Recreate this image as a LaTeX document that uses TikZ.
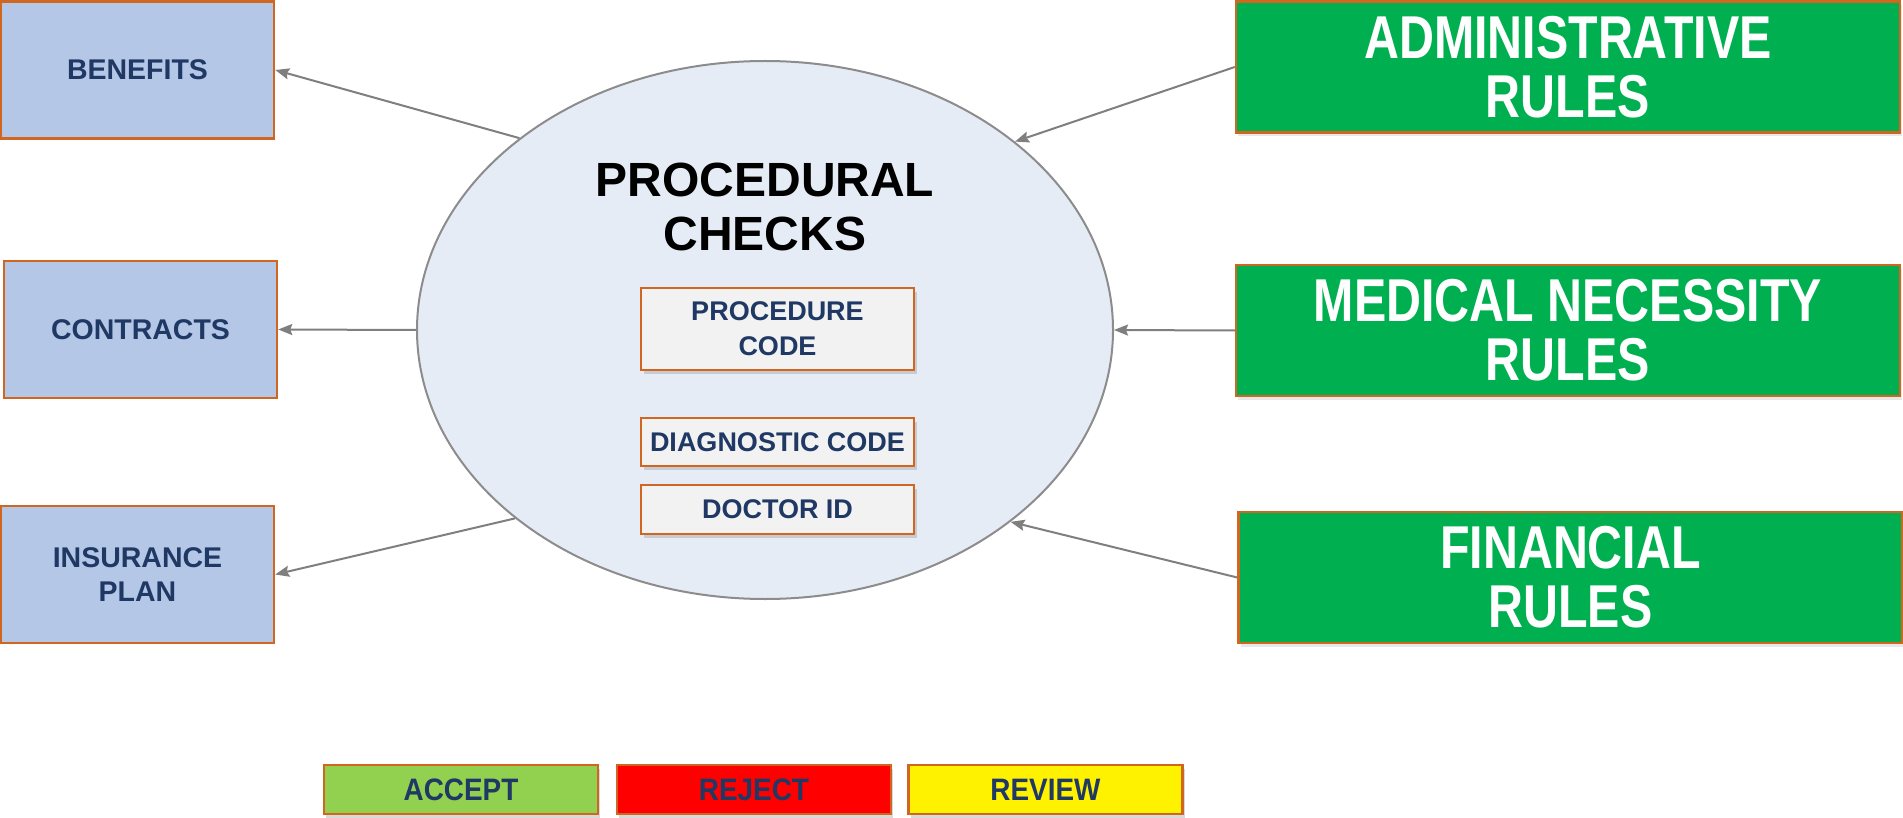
\documentclass[tikz,border=0pt]{standalone}
\usepackage{fontspec}
\setmainfont{Liberation Sans}
\newfontfamily\narrowsans[FakeStretch=0.8]{Liberation Sans}
\newfontfamily\semisans[FakeStretch=0.9]{Liberation Sans}
\usetikzlibrary{arrows.meta,shadows,shapes.geometric}

\definecolor{navy}{HTML}{1F3864}
\definecolor{edgeorange}{HTML}{D0661F}
\definecolor{sideblue}{HTML}{B4C7E7}
\definecolor{ovalfill}{HTML}{E6ECF6}
\definecolor{ovalline}{HTML}{8C8C8C}
\definecolor{rulegreen}{HTML}{00B050}
\definecolor{okgreen}{HTML}{92D050}
\definecolor{arrowgray}{HTML}{7F7F7F}
\definecolor{paleface}{HTML}{F2F2F2}

\tikzset{
  box/.style={draw=edgeorange, line width=2.5pt, rectangle, align=center, inner sep=0pt},
  sidebox/.style={box, fill=sideblue, text=navy, minimum width=273pt, minimum height=137pt,
    font=\fontsize{28.5}{34}\selectfont\bfseries},
  rulebox/.style={box, fill=rulegreen, text=white, minimum width=664pt, minimum height=131pt,
    font=\narrowsans\fontsize{60.5}{59}\selectfont\bfseries,
    drop shadow={opacity=0.18, shadow xshift=2pt, shadow yshift=-4pt}},
  fieldbox/.style={box, fill=paleface, text=navy, minimum width=273pt,
    font=\fontsize{27}{35}\selectfont\bfseries,
    drop shadow={opacity=0.3, shadow xshift=3pt, shadow yshift=-4pt}},
  verdict/.style={box, text=navy, minimum width=274pt, minimum height=49pt,
    font=\semisans\fontsize{31}{34}\selectfont\bfseries,
    drop shadow={opacity=0.3, shadow xshift=2pt, shadow yshift=-4pt}},
  link/.style={draw=arrowgray, line width=2pt, -{Stealth[length=14pt, width=11pt, inset=2pt]}}
}

\begin{document}
\begin{tikzpicture}[x=1pt, y=-1pt]
  \useasboundingbox (0,0) rectangle (1903,818);

  % central oval
  \node[ellipse, draw=ovalline, line width=2pt, fill=ovalfill,
        minimum width=696pt, minimum height=538pt, inner sep=0pt] (oval) at (765,330) {};
  \node[font=\fontsize{48}{54}\selectfont\bfseries, align=center] (title) at (765,207)
    {PROCEDURAL\\CHECKS};

  % fields checked inside the oval
  \node[fieldbox, minimum height=82pt] (proc) at (777.5,329) {PROCEDURE\\CODE};
  \node[fieldbox, minimum height=48pt] (diag) at (777.5,442) {DIAGNOSTIC CODE};
  \node[fieldbox, minimum height=49pt] (doc)  at (777.5,509.5) {DOCTOR ID};

  % outputs on the left
  \node[sidebox] (ben) at (137.5,70)   {BENEFITS};
  \node[sidebox] (con) at (140.5,329.5) {CONTRACTS};
  \node[sidebox] (ins) at (137.5,574.5) {INSURANCE\\PLAN};

  % rule sets on the right
  \node[rulebox] (adm) at (1568,67)     {ADMINISTRATIVE\\RULES};
  \node[rulebox] (med) at (1568,330.5)  {MEDICAL NECESSITY\\RULES};
  \node[rulebox] (fin) at (1570.5,577.5) {FINANCIAL\\RULES};

  % outcomes
  \node[verdict, fill=okgreen] (acc) at (461,789.5)    {ACCEPT};
  \node[verdict, fill=red]     (rej) at (754,789.5)    {REJECT};
  \node[verdict, fill=yellow]  (rev) at (1045.5,789.5) {REVIEW};

  % connectors
  \draw[link] (oval.142) -- (ben.east);
  \draw[link] (oval.west) -- (con.east);
  \draw[link] (oval.217.8) -- (ins.east);
  \draw[link] (adm.west) -- (oval.37.5);
  \draw[link] (med.west) -- (oval.east);
  \draw[link] (fin.west) -- (oval.322.3);
\end{tikzpicture}
\end{document}
